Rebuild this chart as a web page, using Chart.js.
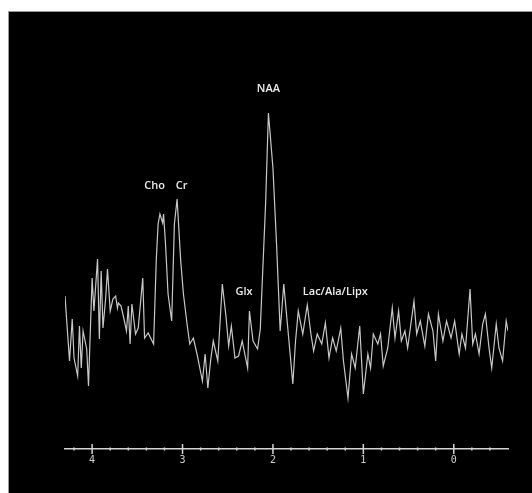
<!DOCTYPE html>
<html>
<head>
<meta charset="utf-8">
<script src="https://cdn.jsdelivr.net/npm/chart.js@4/dist/chart.umd.min.js"></script>
<style>
  html, body { margin: 0; padding: 0; background: #fff; }
  #panel {
    position: absolute; left: 8px; top: 11px;
    width: 523px; height: 482px;
    background: #000;
    border-top: 1px solid #9a9a9a;
    border-left: 1px solid #9a9a9a;
  }
  #panel canvas { display: block; }
</style>
</head>
<body>
<div id="panel"><canvas id="spectrum"></canvas></div>
<script>
// Chemical shift (ppm) and signal level (a.u.) of the spectrum trace
const shiftPpm = [
  4.30, 4.25, 4.22, 4.20, 4.16, 4.14, 4.12, 4.10, 4.06, 4.04,
  4.02, 4.00, 3.98, 3.94, 3.92, 3.90, 3.88, 3.85, 3.83, 3.80,
  3.77, 3.74, 3.72, 3.71, 3.68, 3.65, 3.62, 3.60, 3.58, 3.56,
  3.52, 3.49, 3.44, 3.42, 3.38, 3.32, 3.29, 3.27, 3.25, 3.22,
  3.21, 3.19, 3.16, 3.12, 3.09, 3.06, 3.02, 2.99, 2.95, 2.92,
  2.88, 2.84, 2.78, 2.75, 2.72, 2.69, 2.66, 2.61, 2.56, 2.52,
  2.49, 2.46, 2.42, 2.38, 2.34, 2.28, 2.26, 2.22, 2.17, 2.14,
  2.08, 2.05, 2.00, 1.96, 1.92, 1.88, 1.84, 1.78, 1.75, 1.72,
  1.67, 1.62, 1.58, 1.55, 1.51, 1.46, 1.42, 1.38, 1.34, 1.30,
  1.25, 1.22, 1.17, 1.13, 1.09, 1.04, 1.00, 0.95, 0.92, 0.89,
  0.84, 0.81, 0.78, 0.73, 0.68, 0.65, 0.61, 0.58, 0.54, 0.51,
  0.44, 0.41, 0.37, 0.32, 0.28, 0.23, 0.20, 0.17, 0.12, 0.08,
  0.03, -0.01, -0.06, -0.09, -0.13, -0.18, -0.21, -0.24, -0.28, -0.32,
  -0.35, -0.39, -0.42, -0.47, -0.50, -0.54, -0.58, -0.60
];
const signal = [
  105, 40, 82, 43, 25, 75, 33, 70, 52, 15,
  70, 123, 90, 142, 62, 130, 73, 103, 132, 90,
  102, 105, 93, 98, 95, 83, 70, 95, 57, 97,
  67, 73, 123, 63, 68, 57, 142, 177, 187, 178,
  187, 160, 107, 80, 177, 202, 140, 107, 77, 57,
  63, 47, 20, 47, 13, 40, 60, 40, 117, 85,
  55, 75, 43, 45, 60, 33, 90, 60, 52, 72,
  200, 288, 233, 157, 70, 117, 77, 17, 60, 90,
  67, 96, 67, 50, 67, 57, 78, 43, 63, 50,
  73, 40, 3, 47, 33, 75, 7, 47, 33, 67,
  57, 67, 35, 53, 93, 63, 90, 60, 70, 53,
  100, 67, 80, 55, 87, 70, 40, 87, 60, 80,
  63, 80, 47, 67, 53, 112, 57, 67, 47, 77,
  87, 53, 33, 77, 53, 40, 80, 70
];

// Axis ticks: every 0.2 ppm, labelled on whole ppm
const tickPpm = [4.2, 4.0, 3.8, 3.6, 3.4, 3.2, 3.0, 2.8, 2.6, 2.4, 2.2, 2.0,
  1.8, 1.6, 1.4, 1.2, 1.0, 0.8, 0.6, 0.4, 0.2, 0.0, -0.2, -0.4];
const tickLabels = ['4', '3', '2', '1', '0'];

// Metabolite names, placed above their peaks
const peakNames = ['NAA', 'Cho', 'Cr', 'Glx', 'Lac/Ala/Lipx'];
const peakLabelPpm = [2.05, 3.31, 3.01, 2.32, 1.31];
const peakLabelLevel = [312, 215, 215, 109, 109];

const isWhole = v => Math.abs(v - Math.round(v)) < 1e-6;

// cross ticks on the shift axis: long on whole ppm, short in between
const axisTicks = {
  id: 'axisTicks',
  afterDraw(chart) {
    const { ctx, scales: { x }, chartArea } = chart;
    const y0 = chartArea.bottom;
    ctx.save();
    ctx.strokeStyle = '#d4d4d4';
    ctx.lineWidth = 1.5;
    tickPpm.forEach(v => {
      const px = x.getPixelForValue(v);
      const h = isWhole(v) ? 5 : 1.5;
      ctx.beginPath();
      ctx.moveTo(px, y0 - h);
      ctx.lineTo(px, y0 + h);
      ctx.stroke();
    });
    ctx.restore();
  }
};

const peakLabels = {
  id: 'peakLabels',
  afterDatasetsDraw(chart) {
    const { ctx, scales: { x, y } } = chart;
    ctx.save();
    ctx.fillStyle = '#ececec';
    ctx.font = '600 11px "Open Sans", sans-serif';
    ctx.textAlign = 'center';
    ctx.textBaseline = 'middle';
    peakNames.forEach((name, i) => {
      ctx.fillText(name, x.getPixelForValue(peakLabelPpm[i]), y.getPixelForValue(peakLabelLevel[i]));
    });
    ctx.restore();
  }
};

new Chart(document.getElementById('spectrum'), {
  type: 'line',
  data: {
    datasets: [{
      data: shiftPpm.map((p, i) => ({ x: p, y: signal[i] })),
      borderColor: '#c8c8c8',
      borderWidth: 1.2,
      pointRadius: 0,
      tension: 0
    }]
  },
  options: {
    responsive: true,
    maintainAspectRatio: false,
    animation: false,
    layout: { padding: { left: 56, right: 24, top: 0, bottom: 0 } },
    plugins: { legend: { display: false }, tooltip: { enabled: false } },
    scales: {
      x: {
        type: 'linear',
        reverse: true,
        min: -0.6,
        max: 4.3,
        afterBuildTicks: scale => { scale.ticks = tickPpm.map(v => ({ value: v })); },
        afterFit: scale => { scale.height = 45; },
        grid: { display: false, tickLength: 0 },
        border: { display: true, color: '#d4d4d4', width: 1.5 },
        ticks: {
          autoSkip: false,
          maxRotation: 0,
          padding: 5,
          color: '#cfcfcf',
          font: { family: '"DejaVu Sans Mono", monospace', size: 10 },
          callback: v => isWhole(v) ? tickLabels[4 - Math.round(v)] : ''
        }
      },
      y: { display: false, min: -48, max: 389 }
    }
  },
  plugins: [axisTicks, peakLabels]
});
</script>
</body>
</html>
